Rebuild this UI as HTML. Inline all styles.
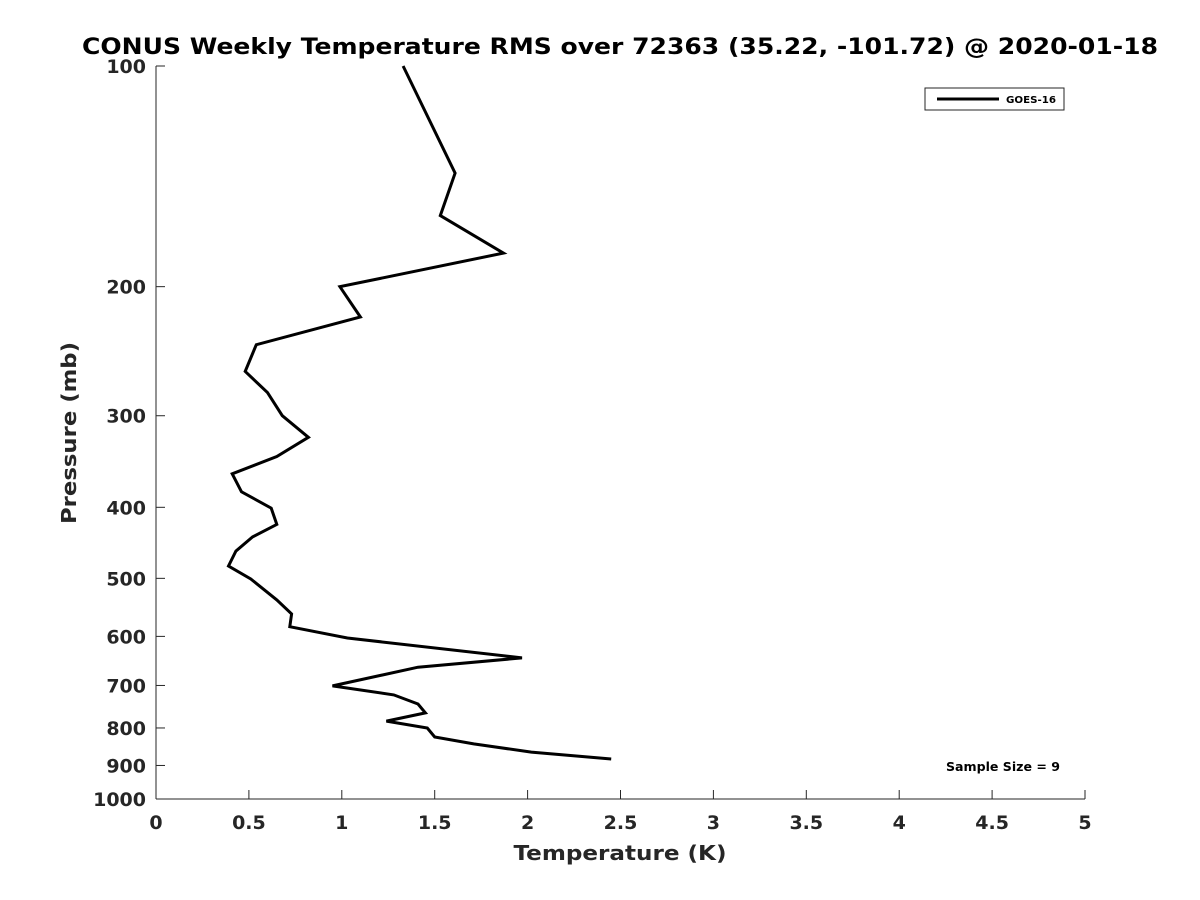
<!DOCTYPE html>
<html><head><meta charset="utf-8"><style>
body{margin:0;background:#fff}
svg{display:block;font-family:"DejaVu Sans","Liberation Sans",sans-serif}
</style></head><body>
<svg id="chart" width="1200" height="900">
<rect width="1200" height="900" fill="#fff"/>
<text x="620" y="54" text-anchor="middle" font-size="22" font-weight="bold" fill="#000" textLength="1076" lengthAdjust="spacingAndGlyphs">CONUS Weekly Temperature RMS over 72363 (35.22, -101.72) @ 2020-01-18</text>
<g id="axes"></g>
<text x="620" y="860" text-anchor="middle" font-size="20" font-weight="bold" fill="#262626" textLength="213" lengthAdjust="spacingAndGlyphs">Temperature (K)</text>
<text transform="translate(76,433) rotate(-90)" text-anchor="middle" font-size="20" font-weight="bold" fill="#262626" textLength="182" lengthAdjust="spacingAndGlyphs">Pressure (mb)</text>
<g>
<rect x="925" y="88" width="139" height="22" fill="#fff" stroke="#262626" stroke-width="1"/>
<line x1="937" y1="99" x2="999" y2="99" stroke="#000" stroke-width="3"/>
<text x="1006" y="103" font-size="10" font-weight="bold" fill="#000" textLength="50" lengthAdjust="spacingAndGlyphs">GOES-16</text>
</g>
<text x="1003" y="771" text-anchor="middle" font-size="12" font-weight="bold" fill="#000" textLength="114" lengthAdjust="spacingAndGlyphs">Sample Size = 9</text>
</svg>
<script>
const temps=[1.33,1.61,1.53,1.87,0.99,1.10,0.54,0.48,0.60,0.68,0.82,0.65,0.41,0.46,0.62,0.65,0.52,0.43,0.39,0.51,0.65,0.73,0.72,1.03,1.97,1.41,0.95,1.28,1.41,1.45,1.24,1.46,1.50,1.71,2.02,2.45];
const pressures=[100,140,160,180,200,220,240,261,279,300,321,341,360,381,401,422,439,459,481,501,535,559,582,603,642,661,701,721,742,763,783,800,823,841,863,882];
const xTicks=[0,0.5,1,1.5,2,2.5,3,3.5,4,4.5,5];
const xTickLabels=["0","0.5","1","1.5","2","2.5","3","3.5","4","4.5","5"];
const yTicks=[100,200,300,400,500,600,700,800,900,1000];
const yTickLabels=["100","200","300","400","500","600","700","800","900","1000"];
const X0=156,X1=1085,Y0=66,Y1=799;
function xs(t){return X0+(t-0)/(5-0)*(X1-X0);}
function ys(p){return Y0+Math.log10(p/100)*(Y1-Y0);}
const NS="http://www.w3.org/2000/svg";
const g=document.getElementById('axes');
function mk(tag,attrs){const e=document.createElementNS(NS,tag);for(const k in attrs)e.setAttribute(k,attrs[k]);g.appendChild(e);return e;}
let a=mk('line',{x1:X0,y1:Y0,x2:X0,y2:Y1,stroke:'#262626','stroke-width':1});


a=mk('line',{x1:X0,y1:Y1,x2:X1,y2:Y1,stroke:'#262626','stroke-width':1});


xTicks.forEach((t,i)=>{
 const x=xs(t);
 const l=mk('line',{x1:x,y1:Y1,x2:x,y2:Y1-9,stroke:'#262626','stroke-width':1});
 
 
 const tx=mk('text',{x:x,y:Y1+30,'text-anchor':'middle','font-size':19,'font-weight':'bold',fill:'#262626'});
 tx.textContent=xTickLabels[i];
 
 
});
yTicks.forEach((p,i)=>{
 const y=ys(p);
 const l=mk('line',{x1:X0,y1:y,x2:X0+9,y2:y,stroke:'#262626','stroke-width':1});
 
 
 const tx=mk('text',{x:X0-10,y:y+7,'text-anchor':'end','font-size':19,'font-weight':'bold',fill:'#262626'});
 tx.textContent=yTickLabels[i];
 
 
});
const pts=temps.map((t,i)=>xs(t).toFixed(1)+','+ys(pressures[i]).toFixed(1)).join(' ');
const line=mk('polyline',{points:pts,fill:'none',stroke:'#000','stroke-width':3,'stroke-linejoin':'miter'});


</script>
</body></html>
